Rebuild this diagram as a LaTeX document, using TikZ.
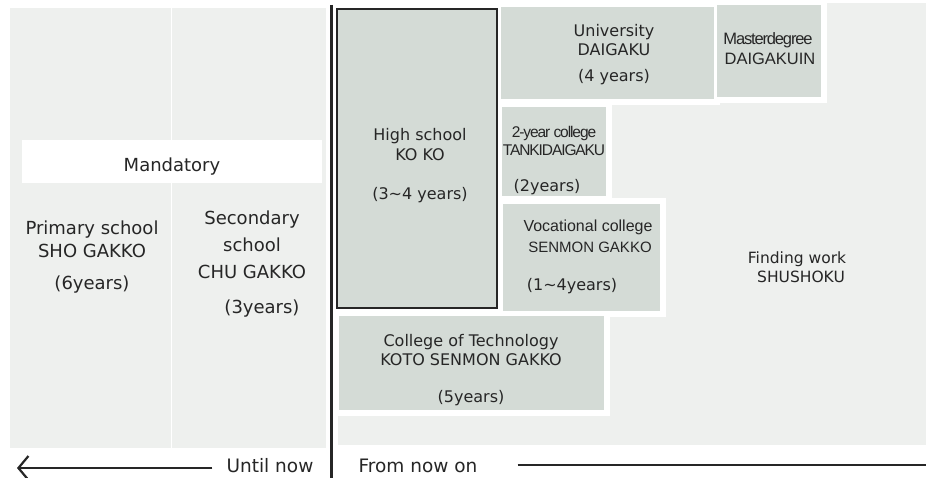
\documentclass[tikz,border=0pt]{standalone}
\usepackage{fontspec}
\usetikzlibrary{arrows.meta}
\newfontfamily\dejavu{DejaVu Sans}
\newfontfamily\arial{Liberation Sans}
\newfontfamily\narrow[LetterSpace=-7]{Liberation Sans}
\definecolor{panel}{RGB}{238,240,238}
\definecolor{boxfill}{RGB}{212,219,214}
\definecolor{ink}{RGB}{38,38,38}
\tikzset{
  lab/.style={inner sep=0pt,text=ink,text depth=0pt},
  labbig/.style={lab,text height=13pt,font=\dejavu\fontsize{18}{20}\selectfont},
  labmed/.style={lab,text height=11.5pt,font=\dejavu\fontsize{16}{18}\selectfont},
  labsml/.style={lab,text height=11pt,font=\dejavu\fontsize{15.5}{17}\selectfont},
  labari/.style={lab,text height=11.5pt,font=\arial\fontsize{16}{18}\selectfont},
  labnar/.style={lab,text height=11pt,font=\narrow\fontsize{15.5}{17}\selectfont},
  arrline/.style={ink,line width=2.2pt},
}
\begin{document}
\begin{tikzpicture}[x=1pt,y=-1pt]
  \useasboundingbox[fill=white] (0,0) rectangle (926,478);
  %%%% until now: the mandatory part
  \fill[panel] (10,8) rectangle (170.5,448);
  \fill[panel] (171.5,8) rectangle (326,448);
  \fill[white] (22,140) rectangle (322,183);
  \node[labbig] (mand) at (172,165) {Mandatory};
  %% primary and secondary school
  \foreach \y/\t [count=\i] in {228/Primary school,251/SHO GAKKO,283/(6years)}
    \node[labbig] (pri\i) at (92,\y) {\t};
  \foreach \y/\t [count=\i] in {218/Secondary,245/school,272/CHU GAKKO}
    \node[labbig] (sec\i) at (252,\y) {\t};
  \node[labbig] (sec4) at (262,307) {(3years)};
  %%%% from now on
  \fill[panel] (338,3) rectangle (926,445);
  % white frames round the boxes
  \foreach \a/\b/\c/\d in {337/9/497/308,501/7/714/99,717/5/821/97,502/107/606/196,503/204/660/311,339/316/604/410}
    \fill[white] (\a-6,\b-6) rectangle (\c+6,\d+6);
  %% the boxes
  \draw[fill=boxfill,draw=ink,line width=2pt] (337,9) rectangle (497,308); % high school
  \foreach \a/\b/\c/\d in {501/7/714/99,717/5/821/97,502/107/606/196,503/204/660/311,339/316/604/410}
    \fill[boxfill] (\a,\b) rectangle (\c,\d);
  %% high school
  \foreach \y/\t [count=\i] in {135/High school,155/KO KO,194/(3∼4 years)}
    \node[labmed] (hs\i) at (420,\y) {\t};
  %% university and master
  \foreach \y/\t [count=\i] in {31/University,50/DAIGAKU,76/(4 years)}
    \node[labmed] (uni\i) at (614,\y) {\t};
  \node[labnar,font=\narrow\fontsize{16.5}{18}\selectfont] (mas1) at (768,39) {Masterdegree};
  \node[labari,font=\arial\fontsize{16.5}{18}\selectfont] (mas2) at (770,59) {DAIGAKUIN};
  %% 2-year college
  \node[labnar] (two1) at (554,132) {2-year college};
  \node[labnar] (two2) at (554,150) {TANKIDAIGAKU};
  \node[labmed] (two3) at (547,186) {(2years)};
  %% vocational college
  \node[labari] (voc1) at (588,226) {Vocational college};
  \node[labari,font=\arial\fontsize{15}{17}\selectfont] (voc2) at (590,247) {SENMON GAKKO};
  \node[labmed] (voc3) at (572,285) {(1∼4years)};
  %% college of technology
  \foreach \y/\t [count=\i] in {341/College of Technology,360/KOTO SENMON GAKKO,397/(5years)}
    \node[labmed] (kos\i) at (471,\y) {\t};
  %% finding work
  \node[labsml] (work1) at (797,258) {Finding work};
  \node[labsml] (work2) at (801,277) {SHUSHOKU};
  %%%% the time line
  \draw[ink,line width=3pt] (331,5) -- (331,478);
  \node[labbig,font=\dejavu\fontsize{18.5}{20}\selectfont] (until) at (270,466) {Until now};
  \node[labbig,font=\dejavu\fontsize{18.5}{20}\selectfont] (from) at (418,466) {From now on};
  \coordinate (tipL) at (17,468);
  \coordinate (endR) at (926,465);
  \draw[arrline,-{Straight Barb[length=10pt,width=24pt]}] (until.west) ++(-14,2) -- (tipL);
  \draw[arrline] (from.east) ++(40,-1) -- (endR);
\end{tikzpicture}
\end{document}
